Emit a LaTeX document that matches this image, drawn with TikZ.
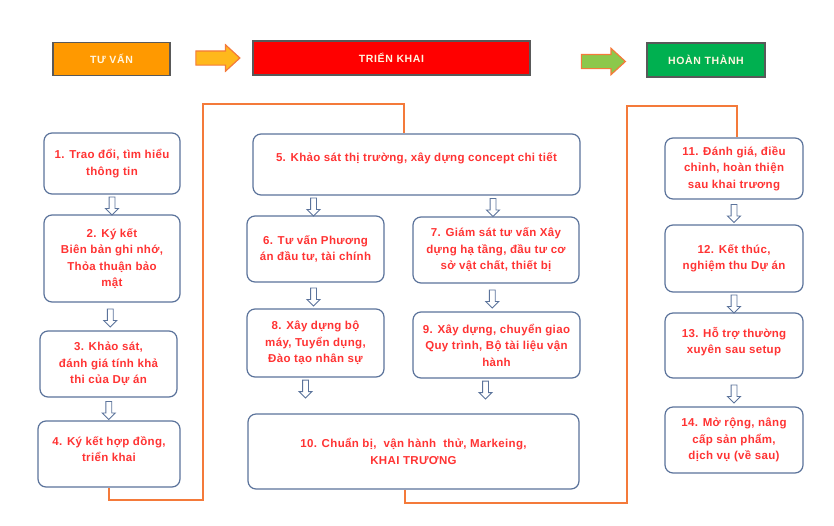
\documentclass[tikz,border=0pt]{standalone}
\usepackage{fontspec}
\setmainfont{Liberation Sans}
\newfontfamily\taskfont[LetterSpace=3]{Liberation Sans}
\newfontfamily\stagefont[LetterSpace=6]{Liberation Sans}
\usetikzlibrary{shapes.arrows,positioning,calc}
\definecolor{boxblue}{HTML}{5B739B}
\definecolor{txtred}{HTML}{FF3333}
\definecolor{frameor}{HTML}{F47A3A}
\definecolor{hdrgray}{HTML}{595959}
\definecolor{hdrorange}{HTML}{FF9900}
\definecolor{hdrgreen}{HTML}{00B050}
\definecolor{hdrtext}{HTML}{FFF6E0}
\definecolor{arryellow}{HTML}{FFB81C}
\definecolor{arrgreen}{HTML}{8CC84B}

\begin{document}
\begin{tikzpicture}[x=1pt,y=-1pt,
    stage/.style={draw=hdrgray,line width=1.3pt,text=hdrtext,inner sep=0pt,
      font=\stagefont\bfseries\fontsize{10.5}{12}\selectfont},
    task/.style={draw=boxblue,line width=1.2pt,rounded corners=8pt,fill=white,
      text=txtred,align=center,inner sep=0pt,
      font=\taskfont\bfseries\fontsize{11.5}{16.5}\selectfont},
    darr/.style={single arrow,draw=boxblue,fill=white,line width=0.9pt,rotate=-90,
      minimum height=18pt,minimum width=0pt,inner xsep=0pt,inner ysep=2.5pt,
      single arrow head extend=3.5pt,single arrow tip angle=90},
    bigarr/.style={single arrow,draw=frameor,line width=1.2pt,
      minimum height=44pt,minimum width=0pt,inner xsep=0pt,inner ysep=6.5pt,
      single arrow head extend=6pt,single arrow tip angle=85},
    frame/.style={draw=frameor,line width=1.3pt}
  ]
  \useasboundingbox (0,0) rectangle (834,525);

  %% stages
  \node[stage,fill=hdrorange,minimum width=117pt,minimum height=33pt] (tuvan) at (111.5,59) {TƯ VẤN};
  \node[stage,fill=red,minimum width=277pt,minimum height=34pt] (trienkhai) at (391.5,58) {TRIỂN KHAI};
  \node[stage,fill=hdrgreen,minimum width=118pt,minimum height=34pt] (hoanthanh) at (706,60) {HOÀN THÀNH};
  \node[bigarr,fill=arryellow] (a1) at (214,58) {};
  \node[bigarr,fill=arrgreen] (a2) at (599.5,61.5) {};

  %% column 1
  \node[task,minimum width=136pt,minimum height=61pt] (t1) at (112,163.5) {1. Trao đổi, tìm hiểu\\thông tin};
  \node[task,minimum width=136pt,minimum height=87pt] (t2) at (112,258.5) {2. Ký kết\\Biên bản ghi nhớ,\\Thỏa thuận bảo\\mật};
  \node[task,minimum width=137pt,minimum height=66pt] (t3) at (108.5,364) {3. Khảo sát,\\đánh giá tính khả\\thi của Dự án};
  \node[task,minimum width=142pt,minimum height=66pt,text depth=10pt] (t4) at (109,454) {4. Ký kết hợp đồng,\\triển khai};

  %% column 2
  \node[task,minimum width=327pt,minimum height=61pt,text depth=14pt] (t5) at (416.5,164.5) {5. Khảo sát thị trường, xây dựng concept chi tiết};
  \node[task,minimum width=137pt,minimum height=66pt] (t6) at (315.5,249) {6. Tư vấn Phương\\án đầu tư, tài chính};
  \node[task,minimum width=166pt,minimum height=66pt] (t7) at (496,250) {7. Giám sát tư vấn Xây\\dựng hạ tầng, đầu tư cơ\\sở vật chất, thiết bị};
  \node[task,minimum width=137pt,minimum height=68pt] (t8) at (315.5,343) {8. Xây dựng bộ\\máy, Tuyển dụng,\\Đào tạo nhân sự};
  \node[task,minimum width=167pt,minimum height=66pt] (t9) at (496.5,345) {9. Xây dựng, chuyển giao\\Quy trình, Bộ tài liệu vận\\hành};
  \node[task,minimum width=331pt,minimum height=75pt] (t10) at (413.5,451.5) {10. Chuẩn bị,\ \ vận hành\ \ thử, Markeing,\\KHAI TRƯƠNG};

  %% column 3
  \node[task,minimum width=138pt,minimum height=61pt] (t11) at (734,168.5) {11. Đánh giá, điều\\chỉnh, hoàn thiện\\sau khai trương};
  \node[task,minimum width=138pt,minimum height=67pt] (t12) at (734,258.5) {12. Kết thúc,\\nghiệm thu Dự án};
  \node[task,minimum width=138pt,minimum height=65pt,text depth=10pt] (t13) at (734,345.5) {13. Hỗ trợ thường\\xuyên sau setup};
  \node[task,minimum width=138pt,minimum height=66pt] (t14) at (734,440) {14. Mở rộng, nâng\\cấp sản phẩm,\\dịch vụ (về sau)};

  %% down arrows
  \node[darr] (d12) at ($(t1.south)!0.5!(t2.north)$) {};
  \node[darr] (d23) at ($(t2.south)!0.5!(t3.north)$) {};
  \node[darr] (d34) at ($(t3.south)!0.5!(t4.north)$) {};
  \node[darr] (d56) at ($(t5.south -| t6)!0.5!(t6.north)+(-2,0)$) {};
  \node[darr] (d57) at ($(t5.south -| t7)!0.5!(t7.north)+(-3,0)$) {};
  \node[darr] (d68) at ($(t6.south)!0.5!(t8.north)+(-2,0)$) {};
  \node[darr] (d79) at ($(t7.south)!0.5!(t9.north)+(-4,0)$) {};
  \node[darr] (d810) at ($(t8.south)+(-10,10)$) {};
  \node[darr] (d910) at ($(t9.south)+(-11,10)$) {};
  \node[darr] (d1112) at ($(t11.south)!0.5!(t12.north)$) {};
  \node[darr] (d1213) at ($(t12.south)!0.5!(t13.north)$) {};
  \node[darr] (d1314) at ($(t13.south)!0.5!(t14.north)$) {};

  %% orange frames
  \coordinate (f1) at (203,500);
  \coordinate (f2) at (203,104);
  \coordinate (f3) at (404,104);
  \coordinate (g1) at (405,503);
  \coordinate (g2) at (627,503);
  \coordinate (g3) at (627,106);
  \coordinate (g4) at (737,106);
  \draw[frame] (t4.south) |- (f1) -- (f2) -- (f3) -- (f3 |- t5.north);
  \draw[frame] (g1 |- t10.south) -- (g1) -- (g2) -- (g3) -- (g4) -- (g4 |- t11.north);
\end{tikzpicture}
\end{document}
